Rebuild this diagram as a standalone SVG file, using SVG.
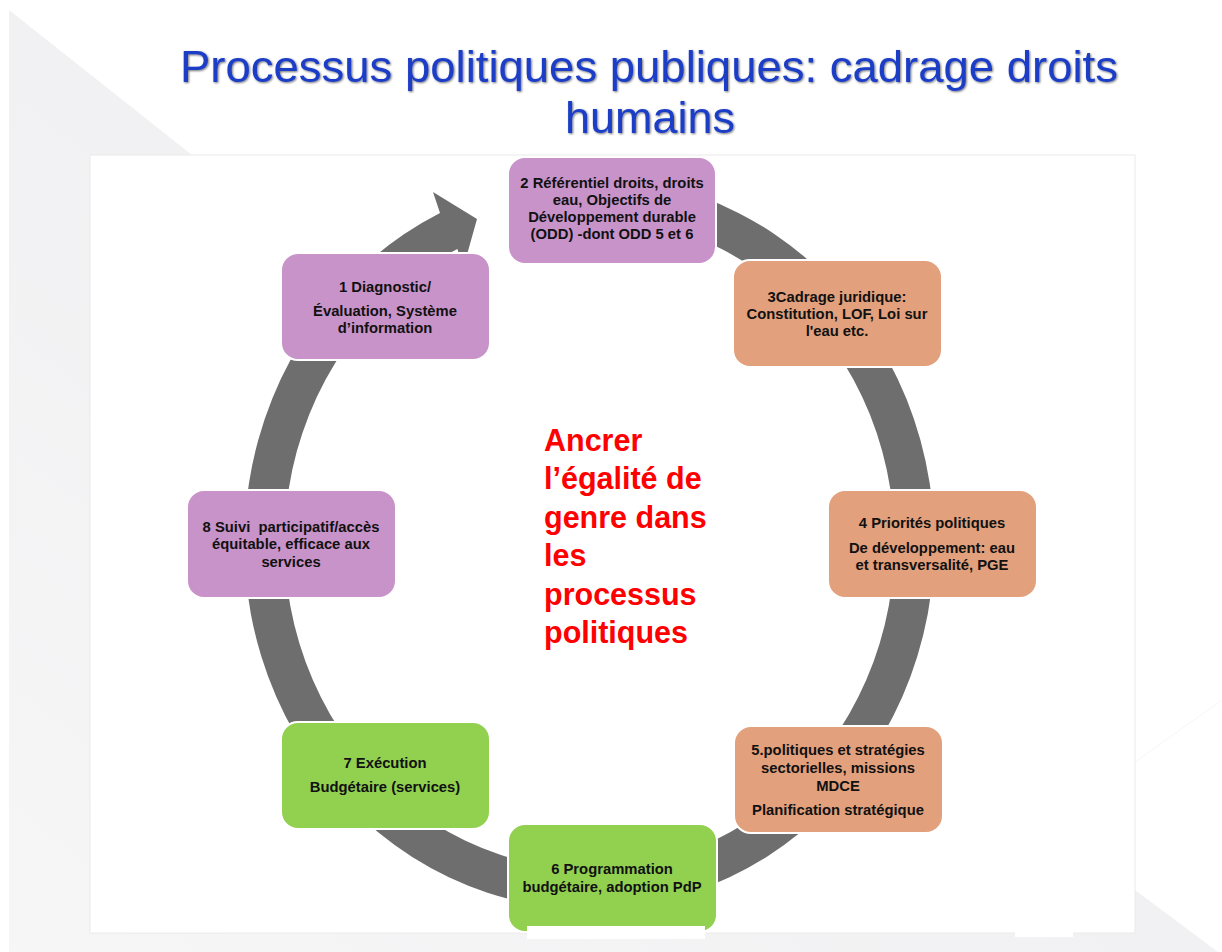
<svg xmlns="http://www.w3.org/2000/svg" width="1222" height="952" viewBox="0 0 1222 952">
  <defs>
    <linearGradient id="bgGrey" x1="1" y1="0" x2="0" y2="1">
      <stop offset="0" stop-color="#ececee"/>
      <stop offset="1" stop-color="#f6f6f7"/>
    </linearGradient>
    <filter id="titleShadow" x="-5%" y="-20%" width="110%" height="140%">
      <feDropShadow dx="1" dy="1" stdDeviation="0.8" flood-color="#000" flood-opacity="0.55"/>
    </filter>
  </defs>
  <style>
    .title { font-family: "Liberation Sans", Arial, sans-serif; font-size: 45px; fill: #1b3cc6; text-anchor: middle; }
    .node rect { stroke: #ffffff; stroke-width: 2; }
    .purple rect { fill: #c893c9; }
    .orange rect { fill: #e2a07c; }
    .green rect { fill: #92d050; }
    .node text { font-family: "Liberation Sans", Arial, sans-serif; font-weight: bold; font-size: 14.8px; fill: #111111; text-anchor: middle; white-space: pre; }
    .center { font-family: "Liberation Sans", Arial, sans-serif; font-weight: bold; font-size: 30.5px; fill: #ff0000; }
    .ring { fill: #6e6e6e; }
  </style>

  <!-- slide background -->
  <rect x="0" y="0" width="1222" height="952" fill="#ffffff"/>
  <path d="M9,10 L192,155 L90,155 L90,933 L1135,933 L1135,890 L1222,955 L9,955 Z" fill="url(#bgGrey)"/>
  <line x1="1135" y1="762" x2="1222" y2="700" stroke="#f6f6f6" stroke-width="1"/>

  <!-- title -->
  <g id="title" filter="url(#titleShadow)">
    <text class="title" x="649" y="82" textLength="938" lengthAdjust="spacingAndGlyphs">Processus politiques publiques: cadrage droits</text>
    <text class="title" x="650" y="133" textLength="170" lengthAdjust="spacingAndGlyphs">humains</text>
  </g>

  <!-- content panel -->
  <rect x="90" y="155" width="1045" height="778" fill="#ffffff" stroke="#eaeaea" stroke-width="1"/>

  <!-- cycle arrow behind the steps -->
  <g id="connectors">
    <path class="ring" d="M620.1,178.4 A345,366 0 1 1 440,213 L433,192 L477,219 L463,269 L457.4,249.1 A305,326 0 1 0 616.6,218.2 Z"/>
  </g>

  <!-- steps -->
  <g id="node-2" class="node purple">
    <rect x="508" y="157" width="208" height="107" rx="17"/>
    <text x="612" y="188">2 Référentiel droits, droits</text>
    <text x="612" y="205">eau, Objectifs de</text>
    <text x="612" y="222">Développement durable</text>
    <text x="612" y="239">(ODD) -dont ODD 5 et 6</text>
  </g>
  <g id="node-3" class="node orange">
    <rect x="733" y="260" width="209" height="107" rx="17"/>
    <text x="837" y="302">3Cadrage juridique:</text>
    <text x="837" y="319">Constitution, LOF, Loi sur</text>
    <text x="837" y="336">l'eau etc.</text>
  </g>
  <g id="node-4" class="node orange">
    <rect x="828" y="490" width="209" height="108" rx="17"/>
    <text x="932" y="528">4 Priorités politiques</text>
    <text x="932" y="553">De développement: eau</text>
    <text x="932" y="570">et transversalité, PGE</text>
  </g>
  <g id="node-5" class="node orange">
    <rect x="734" y="726" width="209" height="107" rx="17"/>
    <text x="838" y="755">5.politiques et stratégies</text>
    <text x="838" y="773">sectorielles, missions</text>
    <text x="838" y="791">MDCE</text>
    <text x="838" y="815">Planification stratégique</text>
  </g>
  <g id="node-6" class="node green">
    <rect x="508" y="824" width="209" height="108" rx="17"/>
    <text x="612" y="874">6 Programmation</text>
    <text x="612" y="892">budgétaire, adoption PdP</text>
  </g>
  <g id="node-7" class="node green">
    <rect x="281" y="722" width="209" height="107" rx="17"/>
    <text x="385" y="768">7 Exécution</text>
    <text x="385" y="792">Budgétaire (services)</text>
  </g>
  <g id="node-8" class="node purple">
    <rect x="187" y="490" width="209" height="108" rx="17"/>
    <text x="291" y="532">8 Suivi&#160; participatif/accès</text>
    <text x="291" y="549">équitable, efficace aux</text>
    <text x="291" y="567">services</text>
  </g>
  <g id="node-1" class="node purple">
    <rect x="281" y="253" width="209" height="107" rx="17"/>
    <text x="385" y="292">1 Diagnostic/</text>
    <text x="385" y="316">Évaluation, Système</text>
    <text x="385" y="333">d’information</text>
  </g>

  <!-- central statement -->
  <g id="center-text">
    <text class="center" x="544" y="451">Ancrer</text>
    <text class="center" x="544" y="489">l’égalité de</text>
    <text class="center" x="544" y="528">genre dans</text>
    <text class="center" x="544" y="566">les</text>
    <text class="center" x="544" y="605">processus</text>
    <text class="center" x="544" y="643">politiques</text>
  </g>

  <!-- footer masks -->
  <rect x="527" y="926" width="178" height="13" fill="#ffffff"/>
  <rect x="1015" y="932" width="58" height="5" fill="#ffffff"/>
</svg>
